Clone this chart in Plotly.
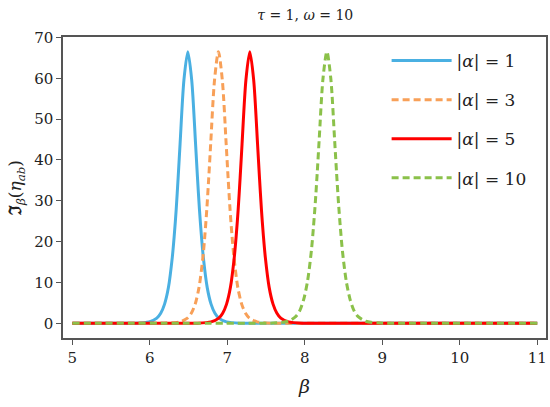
import plotly.graph_objects as go

# beta values and Im part, one pair of lists per |alpha|
beta_a1 = [5, 5.49, 5.79, 5.99, 6.09, 6.14, 6.19, 6.24, 6.29, 6.315, 6.34, 6.365, 6.39, 6.44, 6.49,
           6.54, 6.59, 6.615, 6.64, 6.665, 6.69, 6.74, 6.79, 6.84, 6.89, 6.99, 7.19, 7.49, 11]
im_a1 = [0, 0, 0.02, 0.34, 1.27, 2.46, 4.7, 8.8, 16.2, 21.5, 27.9, 35.6, 43.9, 59.6, 66.5,
         59.6, 43.9, 35.6, 27.9, 21.5, 16.2, 8.8, 4.7, 2.46, 1.27, 0.34, 0.02, 0, 0]

beta_a3 = [5, 5.885, 6.185, 6.385, 6.485, 6.535, 6.585, 6.635, 6.685, 6.71, 6.735, 6.76, 6.785, 6.835, 6.885,
           6.935, 6.985, 7.01, 7.035, 7.06, 7.085, 7.135, 7.185, 7.235, 7.285, 7.385, 7.585, 7.885, 11]
im_a3 = [0, 0, 0.02, 0.34, 1.27, 2.46, 4.7, 8.8, 16.2, 21.5, 27.9, 35.6, 43.9, 59.6, 66.5,
         59.6, 43.9, 35.6, 27.9, 21.5, 16.2, 8.8, 4.7, 2.46, 1.27, 0.34, 0.02, 0, 0]

beta_a5 = [5, 6.29, 6.59, 6.79, 6.89, 6.94, 6.99, 7.04, 7.09, 7.115, 7.14, 7.165, 7.19, 7.24, 7.29,
           7.34, 7.39, 7.415, 7.44, 7.465, 7.49, 7.54, 7.59, 7.64, 7.69, 7.79, 7.99, 8.29, 11]
im_a5 = [0, 0, 0.02, 0.34, 1.27, 2.46, 4.7, 8.8, 16.2, 21.5, 27.9, 35.6, 43.9, 59.6, 66.5,
         59.6, 43.9, 35.6, 27.9, 21.5, 16.2, 8.8, 4.7, 2.46, 1.27, 0.34, 0.02, 0, 0]

beta_a10 = [5, 7.285, 7.585, 7.785, 7.885, 7.935, 7.985, 8.035, 8.085, 8.11, 8.135, 8.16, 8.185, 8.235, 8.285,
            8.335, 8.385, 8.41, 8.435, 8.46, 8.485, 8.535, 8.585, 8.635, 8.685, 8.785, 8.985, 9.285, 11]
im_a10 = [0, 0, 0.05, 0.5, 1.7, 3.1, 5.8, 10.3, 17.8, 23.2, 29.4, 36.8, 44.8, 60.0, 66.5,
          60.0, 44.8, 36.8, 29.4, 23.2, 17.8, 10.3, 5.8, 3.1, 1.7, 0.5, 0.05, 0, 0]

labels = ["|<i>α</i>| = 1", "|<i>α</i>| = 3", "|<i>α</i>| = 5", "|<i>α</i>| = 10"]
x_ticks = [5, 6, 7, 8, 9, 10, 11]
y_ticks = [0, 10, 20, 30, 40, 50, 60, 70]

serif = "DejaVu Serif"

fig = go.Figure()
series = [(beta_a1, im_a1, "#4AB0E2", "solid"),
          (beta_a3, im_a3, "#F8A058", "7px,4px"),
          (beta_a5, im_a5, "#FF0000", "solid"),
          (beta_a10, im_a10, "#8BC14A", "7px,4px")]
for i, (bx, by, col, dash) in enumerate(series):
    fig.add_trace(go.Scatter(x=bx, y=by, mode="lines", name=labels[i],
                             legendgroup=str(i),
                             line=dict(color=col, width=3, dash=dash,
                                       shape="spline", smoothing=0.8)))

axis_style = dict(showgrid=False, zeroline=False, showline=True, mirror=True,
                  linecolor="#555555", linewidth=1.5, ticks="outside", ticklen=5,
                  tickcolor="#555555", tickfont=dict(family=serif, size=15, color="#222222"))

fig.update_layout(
    width=550, height=407,
    font=dict(family=serif, color="#222222"),
    margin=dict(l=63, r=2, t=37, b=69),
    plot_bgcolor="white", paper_bgcolor="white",
    title=dict(text="<i>τ</i> = 1, <i>ω</i> = 10", x=0.555, xanchor="center",
               y=0.975, yanchor="top", font=dict(family=serif, size=14, color="#222222")),
    xaxis=dict(range=[4.879, 11.113], tickvals=x_ticks,
               title=dict(text="<i>β</i>", font=dict(family=serif, size=19, color="#222222"),
                          standoff=14),
               **axis_style),
    yaxis=dict(range=[-3.6, 70.1], tickvals=y_ticks,
               title=dict(text="<b>ℑ</b><sub><i>β</i></sub>(<i>η</i><sub><i>ab</i></sub>)",
                          font=dict(family=serif, size=17, color="#222222"), standoff=8),
               **axis_style),
    legend=dict(x=0.67, xanchor="left", y=0.98, yanchor="top", bgcolor="rgba(0,0,0,0)",
                font=dict(family=serif, size=17, color="#222222"),
                tracegroupgap=14, itemwidth=60),
)

fig.write_html("out.html", config={"displayModeBar": False},
               post_script="document.body.style.margin='0';")
